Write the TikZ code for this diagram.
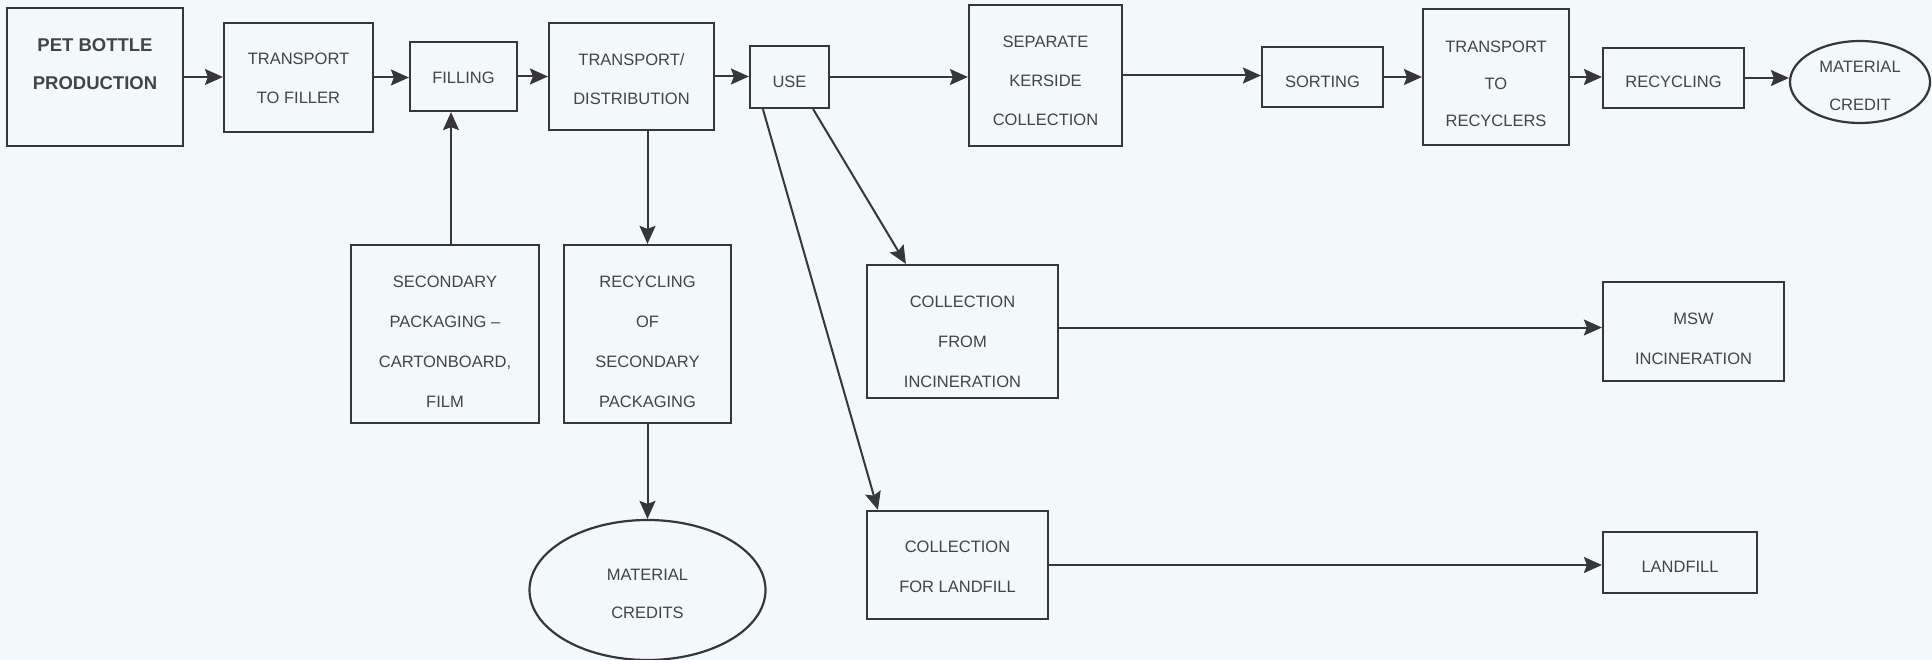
\documentclass[tikz,border=0pt]{standalone}
\usepackage{fontspec}
\setmainfont{Liberation Sans}
\usetikzlibrary{arrows.meta,shapes.geometric,calc}
\definecolor{bg}{RGB}{243,248,250}
\definecolor{lncol}{RGB}{55,55,58}
\definecolor{txcol}{RGB}{68,68,70}
\begin{document}
\begin{tikzpicture}[x=1pt,y=-1pt,
  box/.style={draw=lncol, line width=2.2pt, rectangle, inner sep=0pt},
  oval/.style={draw=lncol, line width=2.2pt, ellipse, inner sep=0pt},
  lb/.style={align=center, text=txcol, font=\fontsize{16.5}{39}\selectfont, inner sep=0pt},
  lbb/.style={lb, font=\fontsize{18.5}{38}\selectfont\bfseries},
  arr/.style={draw=lncol, line width=2pt, -{Stealth[length=18pt,width=16pt,inset=3pt]}},
  plainline/.style={draw=lncol, line width=2pt}
]
\useasboundingbox (0,0) rectangle (1932,660);
\fill[bg] (0,0) rectangle (1932,660);

% top row
\node[box, minimum width=176pt, minimum height=138pt,
  label={[lbb,yshift=13pt]center:{PET BOTTLE\\PRODUCTION}}] (pet) at (95,77) {};
\node[box, minimum width=149pt, minimum height=109pt,
  label={[lb,yshift=-1pt]center:{TRANSPORT\\TO FILLER}}] (ttf) at (298.5,77.5) {};
\node[box, minimum width=107pt, minimum height=69pt,
  label={[lb,yshift=-1.5pt]center:{FILLING}}] (fill) at (463.5,76.5) {};
\node[box, minimum width=165pt, minimum height=107pt,
  label={[lb,yshift=-2.5pt]center:{TRANSPORT/\\DISTRIBUTION}}] (td) at (631.5,76.5) {};
\node[box, minimum width=79pt, minimum height=62pt,
  label={[lb,yshift=-5pt]center:{USE}}] (use) at (789.5,77) {};
\node[box, minimum width=153pt, minimum height=141pt,
  label={[lb,yshift=-5pt]center:{SEPARATE\\KERSIDE\\COLLECTION}}] (sep) at (1045.5,75.5) {};
\node[box, minimum width=121pt, minimum height=60pt,
  label={[lb,yshift=-5pt]center:{SORTING}}] (sort) at (1322.5,77) {};
\node[box, minimum width=146pt, minimum height=136pt,
  label={[lb,font=\fontsize{16.5}{37}\selectfont,yshift=-7pt]center:{TRANSPORT\\TO\\RECYCLERS}}] (ttr) at (1496,77) {};
\node[box, minimum width=141pt, minimum height=60pt,
  label={[lb,yshift=-4pt]center:{RECYCLING}}] (rec) at (1673.5,78) {};
\node[oval, minimum width=140pt, minimum height=82pt,
  label={[lb,font=\fontsize{16.5}{38}\selectfont,yshift=-4pt]center:{MATERIAL\\CREDIT}}] (mc) at (1860,82) {};

% lower left
\node[box, minimum width=188pt, minimum height=178pt,
  label={[lb,font=\fontsize{16.5}{40}\selectfont,yshift=-8pt]center:{SECONDARY\\PACKAGING --\\CARTONBOARD,\\FILM}}] (sp) at (445,334) {};
\node[box, minimum width=167pt, minimum height=178pt,
  label={[lb,font=\fontsize{16.5}{40}\selectfont,yshift=-8pt]center:{RECYCLING\\OF\\SECONDARY\\PACKAGING}}] (rosp) at (647.5,334) {};
\node[oval, minimum width=236pt, minimum height=140pt,
  label={[lb,font=\fontsize{16.5}{38}\selectfont,yshift=-4pt]center:{MATERIAL\\CREDITS}}] (mcs) at (647.5,590) {};

% lower right
\node[box, minimum width=191pt, minimum height=133pt,
  label={[lb,font=\fontsize{16.5}{40}\selectfont,yshift=-10pt]center:{COLLECTION\\FROM\\INCINERATION}}] (cfi) at (962.5,331.5) {};
\node[box, minimum width=181pt, minimum height=99pt,
  label={[lb,font=\fontsize{16.5}{40}\selectfont,yshift=-7pt]center:{MSW\\INCINERATION}}] (msw) at (1693.5,331.5) {};
\node[box, minimum width=181pt, minimum height=108pt,
  label={[lb,font=\fontsize{16.5}{40}\selectfont,yshift=-2pt]center:{COLLECTION\\FOR LANDFILL}}] (cfl) at (957.5,565) {};
\node[box, minimum width=154pt, minimum height=61pt,
  label={[lb,yshift=-4.5pt]center:{LANDFILL}}] (lf) at (1680,562.5) {};

% top row arrows
\draw[arr] (pet.east) -- (pet.east -| ttf.west);
\draw[arr] (ttf.east) -- (ttf.east -| fill.west);
\draw[arr] (fill.east) -- (fill.east -| td.west);
\draw[arr] (td.east) -- (td.east -| use.west);
\draw[arr] (use.east) -- (use.east -| sep.west);
\draw[arr] (sep.east) -- (sep.east -| sort.west);
\draw[arr] (sort.east) -- (sort.east -| ttr.west);
\draw[arr] (ttr.east) -- (ttr.east -| rec.west);
\draw[arr] (rec.east) -- (rec.east -| mc.west);

% verticals
\coordinate (spup) at ($(sp.north)+(6,0)$);
\draw[arr] (spup) -- (spup |- fill.south);
\draw[arr] (rosp.north |- td.south) -- (rosp.north);
\draw[arr] (rosp.south) -- (mcs.north);

% diagonals
\draw[arr] ($(use.south west)+(14,0)$) -- ($(cfl.north west)+(12,0)$);
\draw[arr] ($(use.south east)+(-17,0)$) -- ($(cfi.north west)+(40,0)$);

% lower horizontals
\coordinate (cfiout) at ($(cfi.east)+(0,-4)$);
\draw[arr] (cfiout) -- (cfiout -| msw.west);
\draw[arr] (cfl.east) -- (cfl.east -| lf.west);
\end{tikzpicture}
\end{document}
